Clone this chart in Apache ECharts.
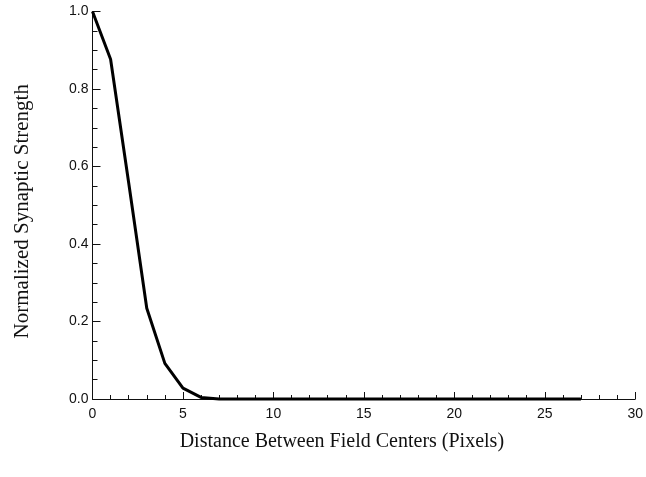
<!DOCTYPE html>
<html>
<head>
<meta charset="utf-8">
<script src="https://cdn.jsdelivr.net/npm/echarts@6/dist/echarts.min.js"></script>
<style>
  html, body { margin: 0; padding: 0; background: #fff; }
  #chart { width: 646px; height: 477px; }
</style>
</head>
<body>
<div id="chart"></div>
<script>
// Distance between receptive field centers (pixels)
const distances = [0, 1, 2, 3, 4, 5, 6, 7, 8, 9, 10, 11, 12, 13, 14, 15, 16, 17, 18, 19, 20, 21, 22, 23, 24, 25, 26, 27];
// Normalized synaptic strength at each distance
const strength = [1.0, 0.877, 0.558, 0.234, 0.092, 0.028, 0.004, 0, 0, 0, 0, 0, 0, 0, 0, 0, 0, 0, 0, 0, 0, 0, 0, 0, 0, 0, 0, 0];

const xTicks = [0, 5, 10, 15, 20, 25, 30];
const yTicks = [0.0, 0.2, 0.4, 0.6, 0.8, 1.0];

const chart = echarts.init(document.getElementById('chart'), null, { renderer: 'canvas' });

const axisColor = '#111';
const tickFont = { color: '#111', fontFamily: 'Liberation Sans, Arial, sans-serif', fontSize: 14 };
const serif = 'Liberation Serif, Times New Roman, serif';

chart.setOption({
  animation: false,
  backgroundColor: '#fff',
  grid: { left: 92.5, right: 9, top: 11.5, bottom: 78, containLabel: false },
  xAxis: {
    type: 'value',
    min: xTicks[0],
    max: xTicks[xTicks.length - 1],
    interval: 5,
    name: 'Distance Between Field Centers (Pixels)',
    nameLocation: 'middle',
    nameGap: 33,
    nameTextStyle: { color: '#111', fontFamily: serif, fontSize: 20, padding: [0, 44, 0, 0] },
    axisLine: { show: true, lineStyle: { color: axisColor, width: 1 } },
    axisTick: { show: true, inside: true, length: 7, lineStyle: { color: axisColor, width: 1 } },
    minorTick: { show: true, splitNumber: 5, length: 4, lineStyle: { color: axisColor, width: 1 } },
    axisLabel: { ...tickFont, margin: 8, formatter: v => String(v) },
    splitLine: { show: false }
  },
  yAxis: {
    type: 'value',
    min: yTicks[0],
    max: yTicks[yTicks.length - 1],
    interval: 0.2,
    name: 'Normalized Synaptic Strength',
    nameLocation: 'middle',
    nameGap: 60,
    nameRotate: 90,
    nameTextStyle: { color: '#111', fontFamily: serif, fontSize: 21, padding: [0, 12, 0, 0] },
    axisLine: { show: true, lineStyle: { color: axisColor, width: 1 } },
    axisTick: { show: true, inside: true, length: 8, lineStyle: { color: axisColor, width: 1 } },
    minorTick: { show: true, splitNumber: 4, length: 5, lineStyle: { color: axisColor, width: 1 } },
    axisLabel: { ...tickFont, margin: 4, formatter: v => v.toFixed(1) },
    splitLine: { show: false }
  },
  series: [{
    type: 'line',
    data: distances.map((d, i) => [d, strength[i]]),
    showSymbol: false,
    clip: false,
    lineStyle: { color: '#000', width: 3 },
    z: 3
  }]
});
</script>
</body>
</html>
